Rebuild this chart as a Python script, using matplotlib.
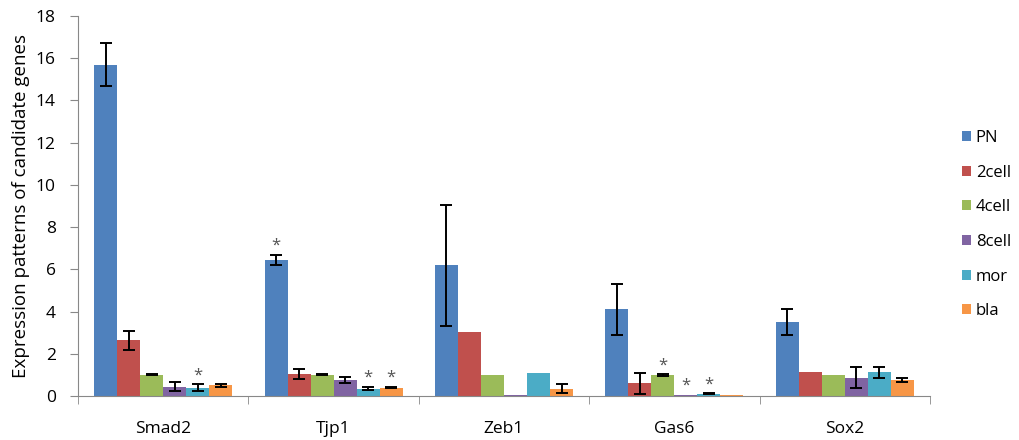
import numpy as np
import matplotlib.pyplot as plt

genes = ["Smad2", "Tjp1", "Zeb1", "Gas6", "Sox2"]
stages = ["PN", "2cell", "4cell", "8cell", "mor", "bla"]
colors = ["#4F81BD", "#C0504D", "#9BBB59", "#8064A2", "#4BACC6", "#F79646"]

# mean expression per stage, one list per stage (order follows genes)
pn = [15.7, 6.45, 6.2, 4.1, 3.5]
cell2 = [2.65, 1.05, 3.05, 0.6, 1.12]
cell4 = [1.0, 1.0, 1.0, 1.0, 1.0]
cell8 = [0.45, 0.75, 0.03, 0.05, 0.87]
mor = [0.4, 0.35, 1.08, 0.1, 1.12]
bla = [0.5, 0.4, 0.35, 0.05, 0.75]

# standard errors (None = no bar drawn)
pn_err = [1.0, 0.25, 2.87, 1.2, 0.62]
cell2_err = [0.45, 0.25, None, 0.5, None]
cell4_err = [0.02, 0.02, None, 0.03, None]
cell8_err = [0.2, 0.15, None, None, 0.5]
mor_err = [0.15, 0.08, None, 0.02, 0.25]
bla_err = [0.08, 0.03, 0.2, None, 0.08]

# significance marks: (gene index, stage index)
stars = [(0, 4), (1, 0), (1, 4), (1, 5), (3, 2), (3, 3), (3, 4)]

values = [pn, cell2, cell4, cell8, mor, bla]
errors = [pn_err, cell2_err, cell4_err, cell8_err, mor_err, bla_err]

plt.rcParams['font.family'] = ['Open Sans', 'DejaVu Sans']

fig = plt.figure(figsize=(10.2, 4.4), dpi=100)
ax = fig.add_axes([78 / 1020, 1 - 396 / 440, 852 / 1020, 380 / 440])

x = np.arange(len(genes))
w = 0.135
for i, (name, vals, errs, c) in enumerate(zip(stages, values, errors, colors)):
    pos = x + (i - 2.5) * w
    ax.bar(pos, vals, width=w, color=c, label=name, linewidth=0)
    for p, v, e in zip(pos, vals, errs):
        if e is not None:
            ax.errorbar(p, v, yerr=e, color="black", capsize=4, elinewidth=1.4,
                        capthick=1.4, fmt="none")

for g, s in stars:
    v = values[s][g]
    e = errors[s][g] or 0
    ax.text(x[g] + (s - 2.5) * w, v + e + 0.05, "*", ha="center", va="bottom",
            fontsize=12, color="#555555")

ax.set_xlim(-0.5, len(genes) - 0.5)
ax.set_ylim(0, 18)
ax.set_yticks(range(0, 19, 2))
ax.set_xticks(x)
ax.set_xticklabels(genes, fontsize=12.5)
ax.set_xticks(np.arange(-0.5, len(genes)), minor=True)
ax.tick_params(axis="x", which="major", length=0, pad=18)
ax.tick_params(axis="x", which="minor", length=6, color="#888888")
ax.tick_params(axis="y", labelsize=12.5, length=6, color="#888888", pad=10)
for side in ["top", "right"]:
    ax.spines[side].set_visible(False)
for side in ["left", "bottom"]:
    ax.spines[side].set_color("#888888")
ax.set_ylabel("Expression patterns of candidate genes", fontsize=13.5,
              labelpad=4)

ax.legend(loc="upper left", bbox_to_anchor=(1.037, 0.70), frameon=False,
          fontsize=12, handlelength=0.55, handleheight=0.55, handletextpad=0.3,
          labelspacing=1.12, borderpad=0, borderaxespad=0)

fig.savefig("out.png", dpi=100)
